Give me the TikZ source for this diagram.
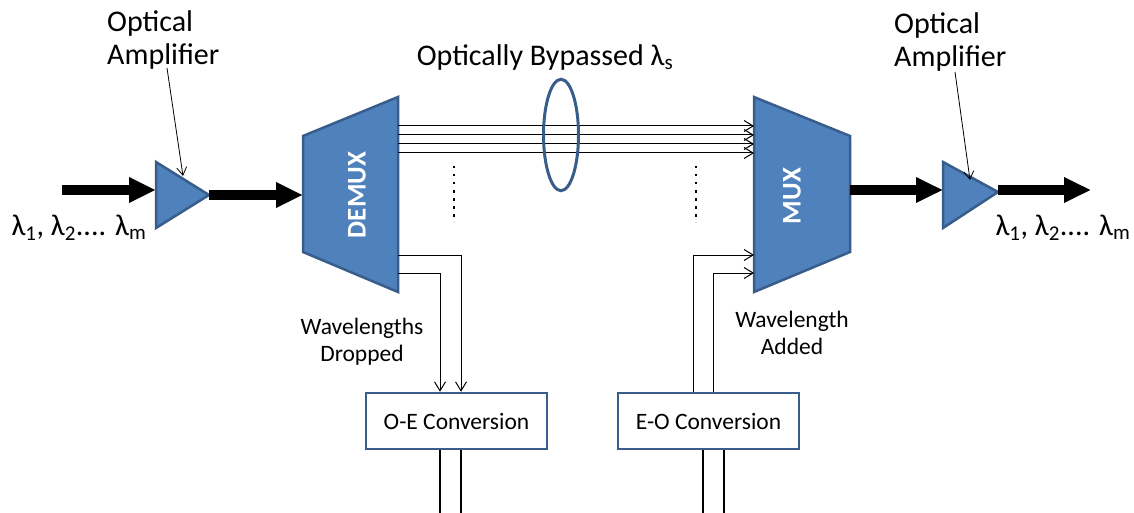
\documentclass[tikz,border=0pt]{standalone}
\usepackage{fontspec}
\setmainfont{Carlito}
\usetikzlibrary{arrows.meta,calc}
\definecolor{ofill}{HTML}{4F81BD}
\definecolor{oline}{HTML}{385D8A}
\begin{document}
\begin{tikzpicture}[x=1pt,y=-1pt,
  lbl/.style={font=\fontsize{30}{33}\selectfont, align=center, inner sep=0pt},
  small/.style={font=\fontsize{23.5}{27}\selectfont, align=center, inner sep=0pt},
  dev/.style={fill=ofill, draw=oline, line width=2.5pt, line join=miter},
  devtxt/.style={rotate=90, text=white, font=\fontsize{27}{30}\selectfont\bfseries, inner sep=0pt},
  fat/.style={line width=10pt, -{Triangle[length=27pt,width=24pt]}},
  thin/.style={line width=1pt, -{Straight Barb[length=9pt,width=11pt]}},
  pointer/.style={line width=0.8pt, -{Straight Barb[length=8pt,width=10pt]}},
  conv/.style={draw=oline, fill=white, line width=2.5pt, minimum width=181pt, minimum height=56pt, inner sep=0pt, font=\fontsize{23.5}{26}\selectfont},
  wire/.style={line width=1.8pt},
  dotline/.style={line width=2.5pt, dash pattern=on 2.5pt off 5.5pt},
]
\useasboundingbox (0,0) rectangle (1134,513);

% ---- input side
\coordinate (in1) at (62,190);
\coordinate (a1i) at (156,190);
\draw[dev] (156,162) -- (209,195) coordinate (a1o) -- (156,228) -- cycle;
\draw[fat] (in1) -- (a1i);

% ---- DEMUX
\draw[dev] (303,136) -- (398,97) -- (398,292) -- (303,252) -- cycle;
\coordinate (dmi) at (303,195);
\node[devtxt] (demux) at (357,195) {DEMUX};
\draw[fat] (a1o) -- (dmi);

% ---- MUX
\draw[dev] (754,97) -- (850,136) -- (850,252) -- (754,292) -- cycle;
\node[devtxt] (mux) at (792,196) {MUX};
\coordinate (mxo) at (850,190);

% ---- output amplifier
\coordinate (a2i) at (943,190);
\draw[dev] (943,162) -- (998,192) -- (943,228) -- cycle;
\coordinate (a2o) at (998,190);
\coordinate (out2) at (1091,190);
\draw[fat] (mxo) -- (a2i);
\draw[fat] (a2o) -- (out2);

% ---- bypassed wavelengths
\foreach \y in {126,135,144,153}{
  \coordinate (bs\y) at (398,\y);
  \coordinate (be\y) at (754,\y);
  \draw[thin] (bs\y) -- (be\y);
}
\draw[oline, line width=3pt] (561,135) ellipse [x radius=17.5pt, y radius=55.7pt];
\draw[dotline] (454,166) coordinate (dl1) -- (454,222) coordinate (dl2);
\draw[dotline] (696,166) coordinate (dr1) -- (696,222) coordinate (dr2);

% ---- conversion boxes
\node[conv] (oe) at (456.5,421) {O-E Conversion};
\node[conv] (eo) at (708.5,421) {E-O Conversion};

% drop
\coordinate (dp1) at (398,255);
\coordinate (dp2) at (398,273);
\draw[thin] (dp1) -| ([xshift=4.5pt]oe.north);
\draw[thin] (dp2) -| ([xshift=-16.5pt]oe.north);
\draw[wire] ([xshift=-16.5pt]oe.south) -- ++(0,64);
\draw[wire] ([xshift=4.5pt]oe.south) -- ++(0,64);

% add
\coordinate (ad1) at (754,255);
\coordinate (ad2) at (754,273);
\draw[thin] ([xshift=-15.5pt]eo.north) |- (ad1);
\draw[thin] ([xshift=4.5pt]eo.north) |- (ad2);
\draw[wire] ([xshift=-5.5pt]eo.south) -- ++(0,64);
\draw[wire] ([xshift=15.5pt]eo.south) -- ++(0,64);

% ---- labels
\node[lbl, align=left, anchor=west] (oa1) at (107,40) {Optical\\Amplifier};
\node[lbl, align=left, anchor=west] (oa2) at (894,42) {Optical\\Amplifier};
\coordinate (p1s) at (167,68);
\coordinate (p1e) at (183,176);
\coordinate (p2s) at (955,72);
\coordinate (p2e) at (970,180);
\draw[pointer] (p1s) -- (p1e);
\draw[pointer] (p2s) -- (p2e);
\node[lbl] (byp) at (545,58) {Optically Bypassed λ\textsubscript{s}};
\node[lbl] (lamin) at (79,228) {λ\textsubscript{1}, λ\textsubscript{2}.... λ\textsubscript{m}};
\node[lbl] (lamout) at (1063,228) {λ\textsubscript{1}, λ\textsubscript{2}.... λ\textsubscript{m}};
\node[small] (wdrop) at (362,342) {Wavelengths\\Dropped};
\node[small] (wadd) at (792,333) {Wavelength\\Added};
\end{tikzpicture}
\end{document}
